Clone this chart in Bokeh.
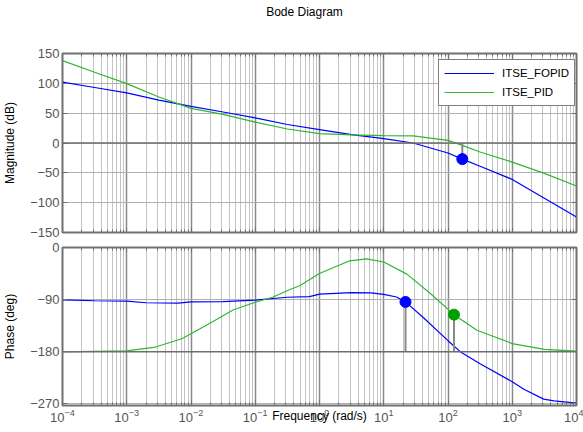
from bokeh.plotting import figure
from bokeh.models import (FixedTicker, LinearAxis, LogAxis, Span, Legend,
                          LegendItem, Range1d, Div)
from bokeh.layouts import column
from bokeh.embed import file_html
from bokeh.resources import INLINE

# ---------------- data ----------------
decades = [1e-4, 1e-3, 1e-2, 1e-1, 1, 10, 100, 1000, 10000]
mag_ticks = [-150, -100, -50, 0, 50, 100, 150]
phase_ticks = [-270, -180, -90, 0]

freq_mag = [1e-4, 3.16e-4, 1e-3, 3.16e-3, 1e-2, 3.16e-2, 1e-1, 3.16e-1, 1,
            3.16, 10, 28.7, 100, 167, 316, 1000, 3162, 10000]
mag_fopid = [102, 93, 84, 72, 61.5, 52, 42, 31, 22.5, 14, 7.3, 0, -16.8, -27,
             -39, -61, -92.5, -124]
mag_pid = [138, 118.6, 99.6, 77, 58, 48, 35, 23.5, 15.7, 13.5, 12.3, 11.8, 4.5,
           -3.9, -15, -32, -51, -72]

freq_ph_fopid = [1e-4, 3.16e-4, 1e-3, 2e-3, 6.3e-3, 1e-2, 3.16e-2, 1e-1,
                 3.16e-1, 0.7, 1, 3.16, 6.3, 10, 15.8, 21.8, 41.2, 100, 155,
                 316, 1000, 1514, 3090, 4467, 10000]
ph_fopid = [-90.5, -92, -92.5, -95.5, -96, -94, -93.5, -91, -86, -85, -80.5,
            -78, -78.5, -81, -85.5, -94, -121, -161, -180, -201, -232, -245,
            -262, -265, -269]

freq_ph_pid = [1e-4, 1e-3, 2.8e-3, 7.2e-3, 1e-2, 2.1e-2, 4.5e-2, 1e-1, 0.186,
               0.34, 0.49, 1, 2.95, 5.4, 10, 22.9, 53.7, 124, 282, 1000, 3162,
               10000]
ph_pid = [-180.5, -178.5, -172, -157.6, -149, -129, -108, -94.6, -86, -73,
          -66, -45, -23, -19.6, -25, -46, -80, -116, -143, -166, -176, -179]

# stability-margin markers
gm_freq = [167]
gm_mag = [-27]
pm_freq_fopid = [21.8]
pm_ph_fopid = [-94]
pm_freq_pid = [124]
pm_ph_pid = [-116]

TITLE = "Bode Diagram"
BLUE = "#0000ff"
GREEN_LINE = "#2db82d"
GREEN_MARK = "#00a000"
FONT = "Liberation Sans"
TICK_COLOR = "#555555"
W = 583

minors = [m * d for d in decades[:-1] for m in range(2, 10)]


def xticker():
    return FixedTicker(ticks=decades, minor_ticks=minors)


def style(p, yticks):
    p.background_fill_color = "white"
    p.border_fill_color = "white"
    p.outline_line_color = "#707070"
    p.outline_line_width = 2
    p.xgrid.ticker = xticker()
    p.xgrid.grid_line_color = "#8a8a8a"
    p.xgrid.grid_line_width = 1.5
    p.xgrid.minor_grid_line_color = "#c4c4c4"
    p.xgrid.minor_grid_line_width = 1
    p.ygrid.ticker = FixedTicker(ticks=yticks)
    p.ygrid.grid_line_color = "#b0b0b0"
    p.ygrid.grid_line_width = 1
    for ax in p.xaxis:
        ax.ticker = xticker()
    for ax in p.yaxis:
        ax.ticker = FixedTicker(ticks=yticks)
    for ax in list(p.xaxis) + list(p.yaxis):
        ax.major_tick_in = 5
        ax.major_tick_out = 0
        ax.minor_tick_in = 3
        ax.minor_tick_out = 0
        ax.axis_line_color = "#707070"
        ax.major_tick_line_color = "#707070"
        ax.minor_tick_line_color = "#707070"
        ax.major_label_text_font = FONT
        ax.major_label_text_font_size = "13px"
        ax.major_label_text_color = TICK_COLOR
        ax.major_label_standoff = 3
        ax.axis_label_text_font = FONT
        ax.axis_label_text_font_size = "12px"
        ax.axis_label_text_font_style = "normal"
        ax.axis_label_text_color = "black"


def hide_labels(ax):
    ax.major_label_text_font_size = "1px"
    ax.major_label_text_alpha = 0
    ax.major_label_standoff = 0


def blank_axis(kind, ticks, minor=None):
    if kind == "log":
        ax = LogAxis(ticker=FixedTicker(ticks=ticks, minor_ticks=minor or []))
    else:
        ax = LinearAxis(ticker=FixedTicker(ticks=ticks))
    hide_labels(ax)
    ax.major_tick_in = 5
    ax.major_tick_out = 0
    ax.minor_tick_in = 3
    ax.minor_tick_out = 0
    ax.axis_line_color = "#707070"
    ax.major_tick_line_color = "#707070"
    ax.minor_tick_line_color = "#707070"
    return ax


# ---------------- title ----------------
title = Div(text=("<div style=\"width:%dpx;height:25px;line-height:25px;"
                  "text-align:center;padding-left:26px;box-sizing:border-box;"
                  "font-family:'Liberation Sans';font-size:12px;color:black;\">"
                  % W + TITLE + "</div>"),
            width=W, height=25, margin=0)

# ---------------- magnitude ----------------
top = figure(x_axis_type="log", x_range=Range1d(1e-4, 1e4),
             y_range=Range1d(-150, 150), width=W, height=214,
             output_backend="svg", toolbar_location=None,
             min_border_left=56, min_border_right=7, min_border_top=28,
             min_border_bottom=7)
style(top, mag_ticks)
hide_labels(top.xaxis[0])
top.yaxis.axis_label = "Magnitude (dB)"
top.yaxis.axis_label_standoff = 10
top.add_layout(blank_axis("log", decades, minors), "above")
top.add_layout(blank_axis("lin", mag_ticks), "right")

top.add_layout(Span(location=0, dimension="width", line_color="#6e6e6e",
                    line_width=1.5))
l1 = top.line(freq_mag, mag_fopid, line_color=BLUE, line_width=1.2)
l2 = top.line(freq_mag, mag_pid, line_color=GREEN_LINE, line_width=1.2)
top.segment(gm_freq, [0], gm_freq, gm_mag, line_color="#8a8a8a", line_width=2)
top.scatter(gm_freq, gm_mag, size=11, color=BLUE)

legend = Legend(items=[LegendItem(label="ITSE_FOPID", renderers=[l1]),
                       LegendItem(label="ITSE_PID", renderers=[l2])],
                location=(376, 126))
legend.margin = 0
legend.padding = 5
legend.spacing = 3
legend.glyph_width = 50
legend.glyph_height = 16
legend.label_height = 16
legend.label_width = 65
legend.label_standoff = 8
legend.label_text_font = FONT
legend.label_text_font_size = "11.5px"
legend.label_text_color = "black"
legend.border_line_color = "black"
legend.border_line_width = 1.5
legend.background_fill_color = "white"
legend.background_fill_alpha = 1
top.add_layout(legend)

# ---------------- phase ----------------
bot = figure(x_axis_type="log", x_range=top.x_range,
             y_range=Range1d(-273, 0), width=W, height=192,
             output_backend="svg", toolbar_location=None,
             min_border_left=56, min_border_right=7, min_border_top=8,
             min_border_bottom=26)
style(bot, phase_ticks)
bot.yaxis.axis_label = "Phase (deg)"
bot.yaxis.axis_label_standoff = 10
bot.xaxis.axis_label = "Frequency (rad/s)"
bot.xaxis.axis_label_standoff = -16
bot.add_layout(blank_axis("log", decades, minors), "above")
bot.add_layout(blank_axis("lin", phase_ticks), "right")

bot.add_layout(Span(location=-180, dimension="width", line_color="#6e6e6e",
                    line_width=1.5))
bot.line(freq_ph_fopid, ph_fopid, line_color=BLUE, line_width=1.2)
bot.line(freq_ph_pid, ph_pid, line_color=GREEN_LINE, line_width=1.2)
bot.segment(pm_freq_fopid, [-180], pm_freq_fopid, pm_ph_fopid,
            line_color="#8a8a8a", line_width=2)
bot.segment(pm_freq_pid, [-180], pm_freq_pid, pm_ph_pid,
            line_color="#8a8a8a", line_width=2)
bot.scatter(pm_freq_fopid, pm_ph_fopid, size=11, color=BLUE)
bot.scatter(pm_freq_pid, pm_ph_pid, size=11, color=GREEN_MARK)

layout = column(title, top, bot, spacing=0)
open("out.html", "w").write(file_html(layout, INLINE))
